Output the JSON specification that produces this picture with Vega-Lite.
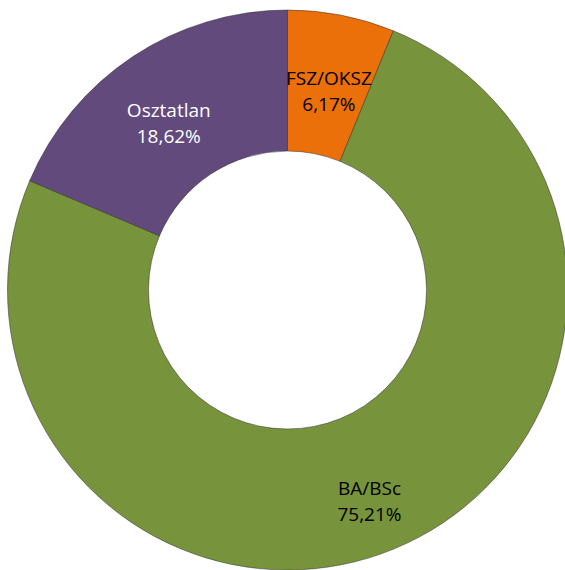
{
  "$schema": "https://vega.github.io/schema/vega-lite/v6.json",
  "width": 565,
  "height": 570,
  "autosize": {"type": "fit", "contains": "padding"},
  "padding": {"left": 10, "top": 10, "right": 0, "bottom": 0},
  "background": "white",
  "view": {"stroke": null},
  "data": {
    "values": [
      {"cat": "FSZ/OKSZ", "value": 6.17, "ord": 1, "label": "FSZ/OKSZ\n6,17%"},
      {"cat": "BA/BSc", "value": 75.21, "ord": 2, "label": "BA/BSc\n75,21%"},
      {"cat": "Osztatlan", "value": 18.62, "ord": 3, "label": "Osztatlan\n18,62%"}
    ]
  },
  "encoding": {
    "theta": {"field": "value", "type": "quantitative", "stack": true},
    "order": {"field": "ord", "type": "quantitative"}
  },
  "layer": [
    {
      "mark": {"type": "arc", "outerRadius": 280, "innerRadius": 139, "stroke": "#2e2e2e", "strokeWidth": 1, "strokeOpacity": 0.5},
      "encoding": {
        "color": {
          "field": "cat",
          "type": "nominal",
          "scale": {"domain": ["FSZ/OKSZ", "BA/BSc", "Osztatlan"], "range": ["#EC700A", "#77933C", "#624A7D"]},
          "legend": null
        }
      }
    },
    {
      "mark": {"type": "text", "radius": 215, "fontSize": 19, "font": "Open Sans", "lineBreak": "\n", "lineHeight": 26, "align": "center", "baseline": "middle"},
      "encoding": {
        "text": {"field": "label"},
        "detail": {"field": "cat"},
        "color": {"condition": {"test": "datum.cat === 'Osztatlan'", "value": "white"}, "value": "black"}
      }
    }
  ]
}
